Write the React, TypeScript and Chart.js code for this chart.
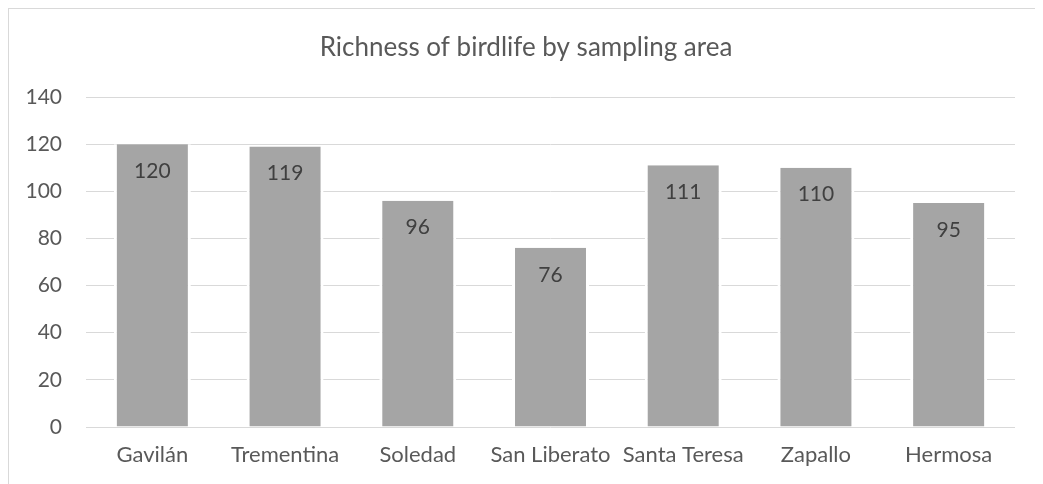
import React, { useEffect, useRef } from "react";
import { Chart, registerables } from "chart.js";

Chart.register(...registerables);

const categories = ["Gavilán", "Trementina", "Soledad", "San Liberato", "Santa Teresa", "Zapallo", "Hermosa"];
const richness = [120, 119, 96, 76, 111, 110, 95];
const yTicks = [0, 20, 40, 60, 80, 100, 120, 140];
const titleText = "Richness of birdlife by sampling area";

const FONT = "Lato";

const valueLabels = {
  id: "valueLabels",
  afterDatasetsDraw(chart: any) {
    const ctx = chart.ctx;
    const meta = chart.getDatasetMeta(0);
    ctx.save();
    ctx.font = `21px ${FONT}`;
    ctx.fillStyle = "#404040";
    ctx.textAlign = "center";
    ctx.textBaseline = "middle";
    meta.data.forEach((bar: any, i: number) => {
      ctx.fillText(String(richness[i]), bar.x, bar.y + 27);
    });
    ctx.restore();
  },
};

const centeredTitle = {
  id: "centeredTitle",
  afterDraw(chart: any) {
    const ctx = chart.ctx;
    ctx.save();
    ctx.font = `26px ${FONT}`;
    ctx.fillStyle = "#595959";
    ctx.textAlign = "center";
    ctx.textBaseline = "middle";
    ctx.fillText(titleText, chart.width / 2, 39);
    ctx.restore();
  },
};

export default function App() {
  const ref = useRef<HTMLCanvasElement>(null);
  useEffect(() => {
    if (!ref.current) return;
    const chart = new Chart(ref.current, {
      type: "bar",
      data: {
        labels: categories,
        datasets: [
          {
            data: richness,
            backgroundColor: "#A5A5A5",
            borderColor: "#FFFFFF",
            borderWidth: { left: 3, right: 3, top: 0, bottom: 0 },
            borderSkipped: "bottom",
            categoryPercentage: 1,
            barPercentage: 0.58,
          },
        ],
      },
      options: {
        animation: false,
        responsive: true,
        maintainAspectRatio: false,
        layout: { padding: { left: 0, right: 28, top: 88, bottom: 0 } },
        plugins: {
          legend: { display: false },
          tooltip: { enabled: false },
          title: { display: false },
        },
        scales: {
          x: {
            grid: { display: false, drawTicks: false },
            border: { display: false },
            ticks: {
              color: "#595959",
              font: { family: FONT, size: 22 },
              padding: 15,
              maxRotation: 0,
              autoSkip: false,
            },
            afterFit(scale: any) {
              scale.height = 57;
            },
          },
          y: {
            min: 0,
            max: 140,
            afterBuildTicks(scale: any) {
              scale.ticks = yTicks.map((v) => ({ value: v }));
            },
            grid: { color: "#D9D9D9", lineWidth: 1, drawTicks: false },
            border: { display: false },
            ticks: {
              color: "#595959",
              font: { family: FONT, size: 21 },
              padding: 24,
            },
            afterFit(scale: any) {
              scale.width = 77;
            },
          },
        },
      },
      plugins: [valueLabels, centeredTitle],
    });
    return () => chart.destroy();
  }, []);

  return (
    <div
      style={{
        width: 1035,
        height: 476,
        borderTop: "1px solid #D9D9D9",
        borderLeft: "1px solid #D9D9D9",
        boxSizing: "border-box",
        position: "relative",
        background: "#fff",
      }}
    >
      <div style={{ position: "absolute", left: 0, top: 0, width: 1034, height: 475 }}>
        <canvas ref={ref} />
      </div>
    </div>
  );
}
